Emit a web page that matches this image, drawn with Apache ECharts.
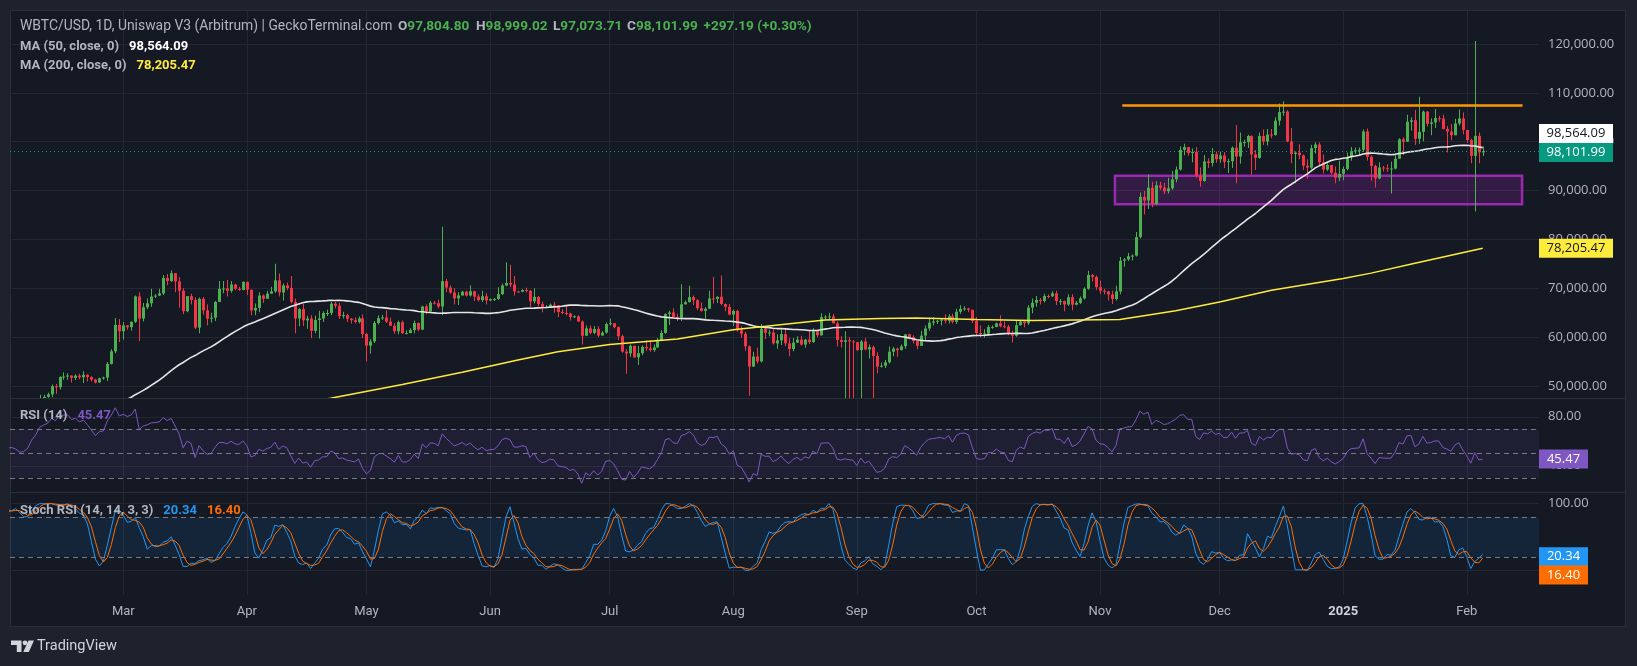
<!DOCTYPE html>
<html><head><meta charset="utf-8">
<script src="https://cdn.jsdelivr.net/npm/echarts@6/dist/echarts.min.js"></script>
<style>html,body{margin:0;padding:0;background:#1e222d;}#c{width:1637px;height:666px;}</style>
</head><body><div id="c"></div>
<script>
// ---------------- DATA (prices in thousands of USD) ----------------
// Daily candles start 2023-12-01 (days before 2024-02-02 lie left of the visible window; used as indicator warm-up)
const firstDay = '2023-12-01';
const close = [
 38.69,39.47,39.97,41.98,44.08,43.77,43.29,44.17,43.73,43.79,41.24,41.45,42.89,43.02,41.94,42.27,41.36,42.66,42.26,43.65,43.87,43.99,43.74,43.02,43.61,42.52,43.44,42.58,42.07,42.14,42.28,
 44.18,44.97,42.85,44.18,44.16,43.97,43.93,46.97,46.12,46.66,46.34,42.78,42.84,41.73,42.51,43.15,42.74,41.26,41.62,41.66,41.55,39.51,39.85,40.08,39.95,41.82,42.12,42.03,43.30,42.94,42.58,
 43.08,43.19,43.00,42.58,42.66,43.08,44.34,45.29,47.13,47.77,48.29,49.96,49.74,51.83,51.94,52.14,51.66,52.12,51.78,52.28,51.84,51.30,50.73,51.57,51.73,54.52,57.09,62.50,61.20,
 62.40,62.03,63.13,68.33,63.80,66.11,66.93,68.30,68.50,68.96,72.12,71.48,73.08,71.40,69.50,65.30,68.39,67.61,61.94,67.84,65.49,63.78,63.99,67.21,69.88,69.98,69.46,70.76,69.89,69.64,71.33,
 69.71,65.45,65.97,68.51,67.84,68.90,69.36,71.62,69.14,70.59,70.06,67.20,63.82,65.74,63.43,63.81,61.28,63.51,63.82,64.94,64.94,66.84,66.41,64.29,64.50,63.77,63.46,63.12,63.84,60.64,
 58.25,59.12,62.89,63.89,64.03,63.16,62.33,61.19,63.07,60.79,60.83,61.45,62.90,61.55,66.27,65.23,67.05,66.94,66.28,71.45,70.14,69.12,67.93,68.53,69.29,68.51,69.39,68.30,67.58,68.36,67.49,
 67.76,67.82,68.80,70.57,71.08,70.76,69.34,69.31,69.65,69.51,67.32,68.24,66.76,66.01,66.19,66.64,66.49,65.15,64.96,64.83,64.10,64.25,63.18,60.28,61.80,60.86,61.67,60.32,60.93,62.68,
 62.85,62.03,60.20,57.04,56.66,58.23,55.86,56.71,57.99,57.72,57.34,57.89,59.20,60.84,64.72,65.04,64.09,63.97,66.71,67.16,68.19,67.55,65.93,65.37,65.80,67.91,67.81,68.26,66.78,66.19,64.62,
 65.36,61.42,60.70,58.12,53.99,56.03,55.03,61.71,60.88,60.95,58.71,59.35,60.61,58.74,57.56,58.87,59.48,58.48,59.49,59.01,61.18,60.38,64.09,64.18,64.24,62.83,59.42,59.03,59.37,59.12,58.97,
 57.33,59.11,57.48,57.97,56.16,53.95,54.14,54.84,57.02,57.65,57.34,58.13,60.57,60.01,59.19,58.21,60.31,61.76,62.95,63.20,63.35,63.58,63.34,64.26,63.14,65.18,65.77,65.88,65.60,63.33,
 60.84,60.63,60.75,62.07,62.09,62.82,62.22,62.13,60.58,60.28,62.44,63.19,62.85,66.05,67.04,67.61,67.40,68.42,68.36,68.97,67.37,67.37,66.68,68.17,66.64,67.03,67.94,69.91,72.72,72.34,70.22,
 69.49,69.37,68.73,67.81,69.36,75.64,75.90,76.55,76.68,80.47,88.70,87.96,90.58,87.25,91.07,90.59,89.86,90.47,92.31,94.29,98.33,98.89,97.67,97.90,93.01,91.97,95.96,95.64,97.46,96.41,
 97.19,95.86,96.00,98.77,96.96,99.87,99.92,101.17,97.40,96.68,101.17,100.04,101.46,101.37,104.30,106.06,106.15,100.05,97.49,97.76,97.22,95.10,94.69,98.68,99.43,95.79,94.30,95.23,93.63,92.64,93.43,
 94.42,96.89,98.11,98.24,98.35,102.08,96.92,95.04,92.48,94.72,94.56,94.49,94.52,96.53,100.50,99.99,104.08,104.40,100.60,102.02,106.15,103.65,103.96,104.82,104.71,102.62,102.08,101.33,103.73,104.74,102.41,
 100.35,97.10,101.20,97.805,98.102
];
const high = [
 39.0,39.8,40.2,42.2,44.4,44.3,44.1,44.7,44.4,44.0,43.8,42.1,43.4,43.4,43.1,42.8,42.7,42.7,43.5,44.3,44.2,44.4,44.0,43.9,43.8,43.7,43.7,43.8,43.1,42.6,42.9,
 44.2,45.9,45.5,44.8,44.4,44.2,44.5,47.2,47.9,47.7,48.9,46.5,43.2,43.0,43.4,43.6,43.2,42.9,42.2,41.9,41.9,41.7,40.5,40.5,40.3,42.2,42.2,42.8,43.3,43.8,43.7,
 43.7,43.5,43.4,43.1,43.5,43.3,44.5,45.6,48.2,48.2,48.6,50.3,50.4,52.0,52.8,52.6,52.2,52.4,52.5,53.0,52.4,52.0,51.5,51.7,51.9,54.9,57.5,63.9,63.7,
 63.1,62.5,63.2,68.5,69.2,67.0,67.9,69.9,68.8,69.9,72.7,72.9,73.7,73.0,72.3,70.0,68.4,68.9,68.1,68.1,68.2,66.7,65.0,67.4,71.5,71.5,71.7,71.5,70.9,70.3,71.4,
 71.3,69.7,66.9,69.2,68.7,69.5,70.3,75.0,73.0,71.0,71.2,72.5,67.9,65.9,66.8,64.4,64.5,64.4,65.4,65.3,65.6,67.2,67.2,67.0,65.2,64.8,63.9,64.0,64.2,64.7,
 60.9,59.6,63.3,64.5,64.6,65.5,64.0,62.9,63.4,63.4,61.4,61.8,63.4,63.0,66.4,66.7,67.4,67.4,67.7,82.6,71.9,70.6,70.0,69.2,69.5,69.5,70.6,69.5,68.8,69.5,69.0,
 67.9,68.0,70.2,71.0,75.3,74.8,72.5,69.5,69.8,70.1,69.6,70.0,68.4,67.3,66.5,66.9,67.2,66.6,65.7,66.4,65.0,64.5,64.5,63.4,62.4,62.4,62.3,62.2,61.2,63.0,
 63.8,62.9,62.2,60.5,57.5,58.5,58.2,58.2,58.3,59.4,59.4,58.5,59.8,61.4,64.9,65.4,65.9,64.8,70.8,67.5,70.5,68.5,67.8,67.1,66.1,69.5,72.3,68.3,72.6,66.9,66.8,
 65.6,65.6,62.2,61.1,58.3,57.0,57.8,62.7,62.0,61.5,61.8,60.6,61.6,61.8,59.8,59.8,60.2,60.3,59.6,61.4,61.8,61.4,64.9,64.5,65.0,64.8,63.2,60.2,61.2,60.0,59.4,
 59.0,59.4,59.8,58.5,58.3,56.9,54.8,55.3,58.1,58.0,57.9,58.5,60.6,60.7,60.4,59.2,61.3,62.4,64.0,64.1,63.5,63.9,64.7,64.7,64.8,65.8,66.5,66.3,66.0,65.6,
 64.1,62.4,61.6,62.5,62.4,63.0,64.5,63.2,62.5,61.3,63.4,63.5,63.3,66.5,67.9,68.4,68.0,68.9,68.7,69.4,69.5,67.8,67.5,68.8,68.8,67.4,68.3,70.2,73.6,72.9,72.6,
 71.6,69.9,69.4,69.5,70.5,76.4,76.2,77.2,76.9,81.5,89.6,89.9,93.3,91.8,91.9,91.8,91.6,92.6,94.0,94.9,99.0,99.6,98.8,98.6,98.9,94.7,97.3,96.6,98.7,98.0,
 98.0,97.9,96.5,99.0,103.4,101.9,100.4,101.4,101.3,98.3,101.9,102.5,102.6,102.6,105.0,107.8,108.3,106.5,102.8,98.0,99.5,97.4,96.4,99.4,99.9,99.9,97.4,95.6,95.2,94.9,96.1,
 94.9,97.8,98.9,98.8,98.8,102.5,102.7,97.2,95.3,95.8,95.0,95.4,95.9,97.3,100.7,100.9,105.5,105.0,106.5,109.2,106.4,106.3,104.8,106.7,105.3,105.5,103.2,103.6,104.7,106.6,106.0,
 102.0,100.6,120.6,101.9,98.999
];
const low = [
 37.6,38.6,39.2,39.9,41.8,43.4,42.9,43.2,43.6,43.3,40.3,40.7,41.0,42.6,41.7,41.7,41.3,40.6,41.8,42.2,43.4,43.6,43.3,42.7,42.8,42.2,42.2,42.3,41.4,41.5,41.9,
 42.2,44.1,40.8,42.6,42.5,43.4,43.6,43.2,45.3,44.3,45.6,41.5,42.4,41.7,41.7,42.1,42.2,40.7,41.1,41.4,41.4,39.4,38.6,39.5,39.6,39.8,41.4,41.6,41.8,42.7,42.3,
 42.3,42.9,42.9,42.3,42.5,42.5,42.8,44.3,45.3,47.0,47.6,47.7,48.4,49.3,51.3,51.3,50.7,51.2,51.4,50.6,50.9,50.9,50.5,50.6,51.3,51.0,54.4,56.7,59.0,
 59.5,61.5,61.3,62.9,59.2,63.2,65.7,66.2,68.0,68.4,68.6,70.6,71.3,69.2,66.0,64.7,65.1,66.7,61.6,60.8,64.6,62.4,63.0,63.3,67.2,69.0,68.3,69.1,69.6,69.5,69.6,
 68.6,64.5,64.5,65.1,67.0,67.9,68.9,69.1,68.3,67.5,69.6,66.9,60.8,62.2,62.3,61.7,59.8,60.8,59.7,63.1,64.3,64.5,65.9,63.7,63.8,63.1,62.8,62.8,62.8,59.8,
 55.0,56.6,58.8,62.6,63.5,62.9,62.3,60.7,60.6,60.7,60.6,60.8,60.8,61.2,61.4,64.7,65.0,66.7,65.9,64.5,69.2,68.9,66.7,66.6,68.6,68.3,68.3,67.4,67.3,67.2,66.7,
 67.4,67.4,67.6,68.6,70.4,70.2,68.5,69.2,69.2,69.2,66.1,66.9,66.3,65.1,65.9,66.0,65.0,64.1,64.7,64.5,63.4,63.9,63.2,58.5,60.3,60.6,60.6,60.0,60.5,60.7,
 62.4,61.8,59.4,56.8,52.5,56.0,55.8,54.3,56.3,57.2,57.0,57.0,57.8,59.4,60.7,62.5,63.9,63.3,63.3,66.7,67.1,66.6,65.5,65.2,63.5,65.8,66.9,67.0,66.5,65.3,64.5,
 62.3,61.1,59.9,57.2,48.0,53.9,54.6,54.8,59.6,60.2,58.5,57.6,58.4,58.2,56.1,57.1,58.8,58.3,57.8,58.6,58.8,60.0,60.3,63.6,63.6,62.8,58.1,57.9,44.0,44.0,44.0,
 57.2,44.0,57.3,55.6,44.0,52.6,53.8,53.7,54.6,56.1,56.0,57.3,57.6,59.5,58.7,57.5,58.2,59.2,61.3,62.4,62.7,62.4,62.8,62.8,62.8,62.7,64.8,65.4,65.1,62.9,
 60.2,60.0,59.9,60.4,61.7,62.0,62.0,61.8,60.4,58.9,60.1,62.4,62.0,62.5,64.9,66.2,66.7,67.1,68.0,68.2,66.6,66.6,65.3,66.4,65.5,66.5,66.8,67.7,69.7,71.4,69.7,
 68.8,68.8,67.5,66.8,67.5,68.8,74.4,75.6,75.7,76.5,80.2,85.1,86.2,86.6,87.1,90.1,89.3,89.4,90.1,91.7,94.1,97.2,97.1,95.8,92.6,90.8,91.8,94.6,94.9,95.7,
 95.7,94.6,93.6,94.6,91.5,95.5,99.0,98.7,93.3,94.2,96.5,99.3,99.2,100.7,101.2,103.3,105.3,99.9,95.6,91.5,96.4,94.2,92.4,94.3,97.6,95.2,93.5,94.0,93.3,91.5,91.9,
 92.1,94.1,96.1,97.5,97.3,97.9,96.1,92.0,90.6,92.3,93.9,93.8,89.4,94.3,96.5,97.3,100.1,102.3,99.3,99.6,100.1,103.1,101.3,102.8,104.1,102.5,97.8,100.3,101.3,103.3,101.5,
 99.8,95.6,85.7,95.6,97.074
];
// MA(200)
const ma200Days = ['2024-04-15','2024-04-22','2024-05-10','2024-05-25','2024-06-08','2024-06-18','2024-07-01','2024-07-18','2024-08-01','2024-08-24','2024-09-07','2024-09-16','2024-10-01','2024-10-15','2024-11-06','2024-11-20','2024-12-01','2024-12-14','2025-01-01','2025-01-08','2025-01-19','2025-02-05'];
const ma200Vals = [46.6,47.5,50.3,52.8,55.3,57.0,58.5,59.6,61.5,63.5,63.8,63.9,63.6,63.4,63.6,65.4,67.2,69.6,72.0,73.1,75.1,78.2];
// drawings
const resistanceLine = ['2024-11-06T14:00:00Z','2025-02-15T00:00:00Z'];
const resistanceLevel = 107.37;
const boxSpan = ['2024-11-04T18:00:00Z','2025-02-14T21:00:00Z'];
const boxLevels = [93.04, 87.19];
// last values shown in the legend / scale tags
const headerKeys = ['O','H','L','C',''];
const headerVals = ['97,804.80','98,999.02','97,073.71','98,101.99','+297.19 (+0.30%)'];
const lastClose = 98101.99, lastMA50 = 98564.09, lastMA200 = 78205.47;
const lastRSI = 45.47, lastK = 20.34, lastD = 16.40;
// axis ticks
const monthStarts = ['2024-03-01','2024-04-01','2024-05-01','2024-06-01','2024-07-01','2024-08-01','2024-09-01','2024-10-01','2024-11-01','2024-12-01','2025-01-01','2025-02-01'];
const monthLabels = ['Mar','Apr','May','Jun','Jul','Aug','Sep','Oct','Nov','Dec','2025','Feb'];
const priceTicks = [50,60,70,80,90,100,110,120];
const rsiTicks = [40,80];
const stochTicks = [0,100];

// ---------------- BUILD ----------------
const DAY = 86400000;
const t0 = Date.parse(firstDay);
const ts = close.map((_, i) => t0 + i * DAY);
const monthTs = monthStarts.map(d => Date.parse(d));
const tMar = Date.parse('2024-03-01');
const xMin = tMar - 28.42 * DAY, xMax = tMar + 355.12 * DAY;

const candles = close.map((c, i) => {
  const o = i > 0 ? close[i - 1] : c;
  return [ts[i], o, c, Math.min(low[i], o, c), Math.max(high[i], o, c)];
});
function sma(src, n) {
  return src.map((_, i) => {
    if (i < n - 1) return null;
    let s = 0;
    for (let k = i - n + 1; k <= i; k++) { if (src[k] == null) return null; s += src[k]; }
    return s / n;
  });
}
function rsiCalc(src, n) {
  const out = src.map(() => null);
  let g = 0, l = 0;
  for (let i = 1; i <= n; i++) { const d = src[i] - src[i - 1]; if (d > 0) g += d; else l -= d; }
  g /= n; l /= n;
  out[n] = l === 0 ? 100 : 100 - 100 / (1 + g / l);
  for (let i = n + 1; i < src.length; i++) {
    const d = src[i] - src[i - 1];
    g = (g * (n - 1) + Math.max(d, 0)) / n;
    l = (l * (n - 1) + Math.max(-d, 0)) / n;
    out[i] = l === 0 ? 100 : 100 - 100 / (1 + g / l);
  }
  return out;
}
const ma50 = sma(close, 50);
const rsi = rsiCalc(close, 14);
const stoch = rsi.map((v, i) => {
  if (v == null || i < 14 + 13) return null;
  let mn = Infinity, mx = -Infinity;
  for (let k = i - 13; k <= i; k++) { mn = Math.min(mn, rsi[k]); mx = Math.max(mx, rsi[k]); }
  return mx === mn ? 0 : (v - mn) / (mx - mn) * 100;
});
const kLine = sma(stoch, 3);
const dLine = sma(kLine, 3);
const pairs = arr => arr.map((v, i) => [ts[i], v]).filter(p => p[1] != null);

const FONT = 'Roboto';
const NUMFONT = 'Open Sans';
const GRID_C = '#242733';
const LABEL_C = '#b2b5be';
const UP = '#4caf50', DOWN = '#f23645';
const fmtPrice = v => (v * 1000).toLocaleString('en-US', {minimumFractionDigits: 2, maximumFractionDigits: 2});
const fmtUSD = v => v.toLocaleString('en-US', {minimumFractionDigits: 2, maximumFractionDigits: 2});

function tag(value, text, bg, fg, w, dy) {
  return {
    coord: [xMax, value], symbol: 'rect', symbolSize: [w, 19], symbolOffset: [w / 2, dy || 0],
    itemStyle: {color: bg},
    label: {show: true, position: 'inside', formatter: text, color: fg, fontSize: 13, fontFamily: NUMFONT}
  };
}
function xAx(i) {
  return {
    type: 'value', gridIndex: i, min: xMin, max: xMax,
    axisLine: {show: false},
    axisTick: {show: false, customValues: monthTs},
    splitLine: {show: true, lineStyle: {color: GRID_C, width: 1}},
    axisLabel: i === 2 ? {
      show: true, customValues: monthTs, margin: 10, color: LABEL_C, fontSize: 13, fontFamily: FONT,
      formatter: v => { const k = monthTs.indexOf(v); const s = k >= 0 ? monthLabels[k] : ''; return /^\d+$/.test(s) ? '{b|' + s + '}' : s; },
      rich: {b: {fontWeight: 'bold', color: '#d1d4dc', fontSize: 13, fontFamily: FONT}}
    } : {show: false}
  };
}
function yAx(i, min, max, ticks, fmt) {
  return {
    type: 'value', gridIndex: i, position: 'right', min: min, max: max,
    axisLine: {show: false},
    axisTick: {show: false, customValues: ticks},
    splitLine: {show: true, lineStyle: {color: GRID_C, width: 1}},
    axisLabel: {customValues: ticks, formatter: fmt, color: LABEL_C, fontSize: 13, fontFamily: NUMFONT, margin: 9, align: 'left'}
  };
}
function renderCandle(params, api) {
  const t = api.value(0), o = api.value(1), c = api.value(2), l = api.value(3), h = api.value(4);
  const pO = api.coord([t, o]), pC = api.coord([t, c]), pL = api.coord([t, l]), pH = api.coord([t, h]);
  const col = c >= o ? UP : DOWN;
  const x = Math.round(pO[0]);
  const top = Math.min(pO[1], pC[1]), bot = Math.max(pO[1], pC[1]);
  return {type: 'group', children: [
    {type: 'rect', shape: {x: x, y: pH[1], width: 1, height: pL[1] - pH[1]}, style: {fill: col}},
    {type: 'rect', shape: {x: x - 1, y: top, width: 3, height: Math.max(bot - top, 1)}, style: {fill: col}}
  ]};
}

const rs = (c, size, fam) => ({color: c, fontSize: size || 13, fontFamily: fam || FONT, lineHeight: 16});
const headerX = [398, 476, 553, 627, 703.5];
const titles = [
  {left: 20, top: 19, padding: 0, text: 'WBTC/USD, 1D, Uniswap V3 (Arbitrum) | GeckoTerminal.com',
   textStyle: {color: LABEL_C, fontSize: 13.9, fontFamily: FONT, fontWeight: 'normal', lineHeight: 16}},
  {left: 20, top: 38, padding: 0, text: '{t|MA (50, close, 0)}  {w|' + fmtUSD(lastMA50) + '}',
   textStyle: {rich: {t: rs(LABEL_C), w: rs('#ffffff')}}},
  {left: 20, top: 57, padding: 0, text: '{t|MA (200, close, 0)}  {y|' + fmtUSD(lastMA200) + '}',
   textStyle: {rich: {t: rs(LABEL_C), y: rs('#ffeb3b')}}},
  {left: 20, top: 407, padding: 0, text: '{t|RSI (14)}  {p|' + lastRSI.toFixed(2) + '}',
   textStyle: {rich: {t: rs(LABEL_C), p: rs('#7e57c2')}}},
  {left: 20, top: 502, padding: 0, text: '{t|Stoch RSI (14, 14, 3, 3)}  {b|' + lastK.toFixed(2) + '}  {o|' + lastD.toFixed(2) + '}',
   textStyle: {rich: {t: rs(LABEL_C), b: rs('#2196f3'), o: rs('#ff6d00')}}}
];
headerVals.forEach((v, i) => titles.push({
  left: headerX[i], top: 19, padding: 0,
  text: (headerKeys[i] ? '{k|' + headerKeys[i] + '}' : '') + '{g|' + v + '}',
  textStyle: {rich: {k: rs(LABEL_C, 13.6), g: rs(UP, 13.6)}}
}));

const option = {
  backgroundColor: '#1e222d',
  animation: false,
  grid: [
    {left: 10, top: 11, width: 1529, height: 387},
    {left: 10, top: 398, width: 1529, height: 94},
    {left: 10, top: 492, width: 1529, height: 103}
  ],
  xAxis: [xAx(0), xAx(1), xAx(2)],
  yAxis: [
    yAx(0, 47.54, 126.75, priceTicks, fmtPrice),
    yAx(1, 18.6, 95.3, rsiTicks, v => v.toFixed(2)),
    yAx(2, -37, 117.5, stochTicks, v => v.toFixed(2))
  ],
  title: titles,
  graphic: [
    {type: 'rect', z: -10, silent: true, shape: {x: 10.5, y: 10.5, width: 1615, height: 616}, style: {fill: '#151924', stroke: '#2a2e39', lineWidth: 1}},
    {type: 'line', z: 10, silent: true, shape: {x1: 10, y1: 398.5, x2: 1626, y2: 398.5}, style: {stroke: '#2a2e39', lineWidth: 1}},
    {type: 'line', z: 10, silent: true, shape: {x1: 10, y1: 492.5, x2: 1626, y2: 492.5}, style: {stroke: '#2a2e39', lineWidth: 1}},
    {type: 'polygon', silent: true, shape: {points: [[11, 640.5], [21.5, 640.5], [21.5, 652], [16.8, 652], [16.8, 645], [11, 645]]}, style: {fill: '#d1d4dc'}},
    {type: 'circle', silent: true, shape: {cx: 25, cy: 642.8, r: 2.4}, style: {fill: '#d1d4dc'}},
    {type: 'polygon', silent: true, shape: {points: [[28.5, 640.5], [34, 640.5], [28.8, 652], [23.3, 652]]}, style: {fill: '#d1d4dc'}},
    {type: 'text', silent: true, x: 37, y: 646.5, style: {text: 'TradingView', fill: '#d1d4dc', font: '14.5px Roboto', textVerticalAlign: 'middle'}}
  ],
  series: [
    {
      type: 'custom', name: 'WBTC/USD', xAxisIndex: 0, yAxisIndex: 0, clip: true,
      data: candles, encode: {x: 0, y: [1, 2, 3, 4]},
      renderItem: renderCandle,
      markArea: {silent: true, itemStyle: {color: 'rgba(156,39,176,0.22)', borderColor: '#9c27b0', borderWidth: 2.5},
        data: [[{coord: [Date.parse(boxSpan[0]), boxLevels[0]]}, {coord: [Date.parse(boxSpan[1]), boxLevels[1]]}]]},
      markLine: {silent: true, symbol: ['none', 'none'], label: {show: false},
        data: [
          {yAxis: lastClose / 1000, lineStyle: {color: '#089981', type: [1, 3], width: 1}},
          [{coord: [Date.parse(resistanceLine[0]), resistanceLevel], lineStyle: {color: '#ff9800', width: 2.5, type: 'solid'}},
           {coord: [Date.parse(resistanceLine[1]), resistanceLevel]}]
        ]},
      markPoint: {silent: true, data: [tag(lastClose / 1000, fmtUSD(lastClose), '#089981', '#ffffff', 74, 1.5)]}
    },
    {type: 'line', xAxisIndex: 0, yAxisIndex: 0, data: pairs(ma50), showSymbol: false, clip: true,
     lineStyle: {color: '#e6e6e6', width: 1.6}, z: 3,
     markPoint: {silent: true, data: [tag(lastMA50 / 1000, fmtUSD(lastMA50), '#ffffff', '#131722', 74, -15.2)]}},
    {type: 'line', xAxisIndex: 0, yAxisIndex: 0, data: ma200Days.map((d, i) => [Date.parse(d), ma200Vals[i]]), showSymbol: false, clip: true,
     lineStyle: {color: '#ffeb3b', width: 1.5}, z: 3,
     markPoint: {silent: true, data: [tag(lastMA200 / 1000, fmtUSD(lastMA200), '#ffeb3b', '#131722', 74, 0)]}},
    {type: 'line', xAxisIndex: 1, yAxisIndex: 1, data: pairs(rsi), showSymbol: false, clip: true,
     lineStyle: {color: '#7e57c2', width: 1},
     markArea: {silent: true, itemStyle: {color: 'rgba(126,87,194,0.10)'}, data: [[{yAxis: 70}, {yAxis: 30}]]},
     markLine: {silent: true, symbol: ['none', 'none'], label: {show: false}, lineStyle: {color: '#787b86', type: [5, 4], width: 1},
       data: [{yAxis: 70}, {yAxis: 50}, {yAxis: 30}]},
     markPoint: {silent: true, data: [tag(lastRSI, lastRSI.toFixed(2), '#7e57c2', '#ffffff', 49, 0)]}},
    {type: 'line', xAxisIndex: 2, yAxisIndex: 2, data: pairs(kLine), showSymbol: false, clip: true,
     lineStyle: {color: '#2196f3', width: 1},
     markArea: {silent: true, itemStyle: {color: 'rgba(33,150,243,0.10)'}, data: [[{yAxis: 80}, {yAxis: 20}]]},
     markLine: {silent: true, symbol: ['none', 'none'], label: {show: false}, lineStyle: {color: '#787b86', type: [5, 4], width: 1},
       data: [{yAxis: 80}, {yAxis: 20}]},
     markPoint: {silent: true, data: [tag(lastK, lastK.toFixed(2), '#2196f3', '#ffffff', 49, 0)]}},
    {type: 'line', xAxisIndex: 2, yAxisIndex: 2, data: pairs(dLine), showSymbol: false, clip: true,
     lineStyle: {color: '#ff6d00', width: 1},
     markPoint: {silent: true, data: [tag(lastD, lastD.toFixed(2), '#ff6d00', '#ffffff', 49, 15.6)]}}
  ]
};
const chart = echarts.init(document.getElementById('c'), null, {renderer: 'canvas'});
chart.setOption(option);
</script>
</body></html>
